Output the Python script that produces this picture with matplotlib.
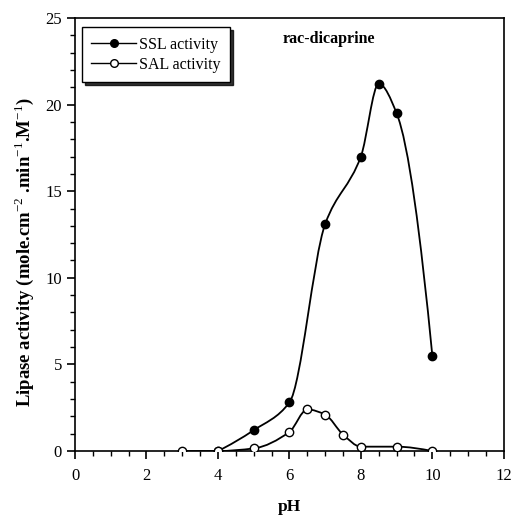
import numpy as np
import matplotlib
matplotlib.use("Agg")
import matplotlib.pyplot as plt
from matplotlib.path import Path
from matplotlib.patches import PathPatch
from matplotlib.ticker import MultipleLocator

# values
ssl_ph = [4, 5, 6, 7, 8, 8.5, 9, 10]
ssl_act = [0.0, 1.2, 2.8, 13.1, 17.0, 21.2, 19.5, 5.5]

sal_ph = [3, 4, 5, 6, 6.5, 7, 7.5, 8, 9, 10]
sal_act = [0.0, 0.0, 0.15, 1.1, 2.4, 2.1, 0.95, 0.25, 0.25, 0.0]

plt.rcParams['font.family'] = ['Liberation Serif', 'DejaVu Serif']
plt.rcParams['mathtext.fontset'] = 'custom'
plt.rcParams['mathtext.rm'] = 'Liberation Serif'


def pchip_slopes(x, y):
    # shape preserving (Fritsch-Carlson) slopes, no scipy here
    h = np.diff(x)
    d = np.diff(y) / h
    n = len(x)
    m = np.zeros(n)
    for k in range(1, n - 1):
        if d[k - 1] * d[k] > 0:
            w1 = 2 * h[k] + h[k - 1]
            w2 = h[k] + 2 * h[k - 1]
            m[k] = (w1 + w2) / (w1 / d[k - 1] + w2 / d[k])

    def end(h0, h1, d0, d1):
        s = ((2 * h0 + h1) * d0 - h0 * d1) / (h0 + h1)
        if np.sign(s) != np.sign(d0):
            s = 0.0
        elif np.sign(d0) != np.sign(d1) and abs(s) > abs(3 * d0):
            s = 3 * d0
        return s

    m[0] = end(h[0], h[1], d[0], d[1])
    m[-1] = end(h[-1], h[-2], d[-1], d[-2])
    return m


def smooth_path(x, y):
    x = np.asarray(x, float)
    y = np.asarray(y, float)
    m = pchip_slopes(x, y)
    verts = [(x[0], y[0])]
    codes = [Path.MOVETO]
    for i in range(len(x) - 1):
        h = (x[i + 1] - x[i]) / 3.0
        verts += [(x[i] + h, y[i] + m[i] * h),
                  (x[i + 1] - h, y[i + 1] - m[i + 1] * h),
                  (x[i + 1], y[i + 1])]
        codes += [Path.CURVE4] * 3
    return Path(verts, codes)


fig = plt.figure(figsize=(5.12, 5.2), dpi=100)
ax = fig.add_axes([0.1465, 0.1327, 0.8375, 0.8327])

for xs, ys in [(ssl_ph, ssl_act), (sal_ph, sal_act)]:
    ax.add_patch(PathPatch(smooth_path(xs, ys), facecolor='none',
                           edgecolor='black', lw=1.3, zorder=2))

ax.plot(ssl_ph, ssl_act, ls='none', marker='o', ms=6, mfc='black',
        mec='black', zorder=3)
ax.plot(sal_ph, sal_act, ls='none', marker='o', ms=6, mfc='white',
        mec='black', mew=1.0, zorder=3)

# legend proxies
ax.plot([], [], '-o', color='black', ms=5.5, lw=1.0, mfc='black',
        label='SSL activity')
ax.plot([], [], '-o', color='black', ms=5.5, lw=1.0, mfc='white',
        label='SAL activity')
leg = ax.legend(loc='upper left', bbox_to_anchor=(0.016, 0.979),
                frameon=True, fancybox=False,
                shadow={'ox': 2, 'oy': -2, 'color': 'black', 'alpha': 0.8},
                fontsize=11.5, handlelength=2.8, borderpad=0.6,
                labelspacing=0.25, handletextpad=0.2, borderaxespad=0)
leg.get_frame().set_edgecolor('black')
leg.get_frame().set_linewidth(1.0)

ax.text(5.8, 23.8, 'rac-dicaprine', fontsize=11.5, fontweight='bold',
        va='center', ha='left')

ax.set_xlim(0, 12)
ax.set_ylim(0, 25)
ax.xaxis.set_major_locator(MultipleLocator(2))
ax.xaxis.set_minor_locator(MultipleLocator(0.5))
ax.yaxis.set_major_locator(MultipleLocator(5))
ax.yaxis.set_minor_locator(MultipleLocator(1))
ax.tick_params(which='major', direction='out', length=6, width=1.2,
               labelsize=12, colors='black')
ax.tick_params(which='minor', direction='out', length=3.5, width=1.0)
ax.tick_params(axis='x', which='major', pad=6)
for s in ax.spines.values():
    s.set_linewidth(1.2)

ax.set_xlabel('pH', fontsize=12.5, fontweight='bold', labelpad=11)
ax.set_ylabel(r'Lipase activity (mole.cm$^{-2}$ .min$^{-1}$.M$^{-1}$)',
              fontsize=13.5, fontweight='bold')
ax.yaxis.set_label_coords(-0.09, 0.46)

fig.savefig('out.png', dpi=100)
